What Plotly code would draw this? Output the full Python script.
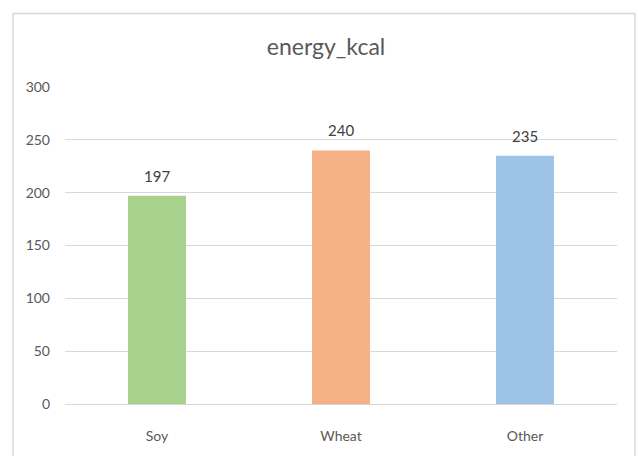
import plotly.graph_objects as go

categories = ["Soy", "Wheat", "Other"]
energy_kcal = [197, 240, 235]
bar_colors = ["#A9D18E", "#F4B183", "#9DC3E6"]
y_ticks = [0, 50, 100, 150, 200, 250, 300]

font_family = "Lato, 'Open Sans', sans-serif"
text_color = "#595959"

fig = go.Figure(
    go.Bar(
        x=categories,
        y=energy_kcal,
        marker=dict(color=bar_colors, line=dict(width=0)),
        width=0.315,
        hoverinfo="x+y",
    )
)

# value labels sitting above each bar
for cat, val in zip(categories, energy_kcal):
    fig.add_annotation(
        x=cat,
        y=val,
        text=str(val),
        showarrow=False,
        yanchor="bottom",
        yshift=9,
        font=dict(family=font_family, size=15, color="#404040"),
    )

plot_top, plot_bottom = 87, 410
fig.update_layout(
    width=638,
    height=456,
    margin=dict(l=65, r=21, t=plot_top, b=456 - plot_bottom),
    paper_bgcolor="white",
    plot_bgcolor="white",
    showlegend=False,
    title=dict(
        text="energy_kcal",
        x=0.511,
        xanchor="center",
        y=1 - 47 / 456,
        yanchor="middle",
        font=dict(family=font_family, size=23, color=text_color),
    ),
    xaxis=dict(
        showgrid=False,
        showline=True,
        linecolor="#d9d9d9",
        linewidth=1,
        ticks="",
        ticklabelstandoff=19,
        tickfont=dict(family=font_family, size=14, color=text_color),
    ),
    yaxis=dict(
        range=[0, 300],
        tickvals=y_ticks,
        showgrid=True,
        gridcolor="#d9d9d9",
        gridwidth=1,
        zeroline=False,
        showline=False,
        ticks="",
        ticklabelstandoff=14,
        tickfont=dict(family=font_family, size=14, color=text_color),
    ),
    shapes=[
        dict(
            type="rect",
            xref="paper",
            yref="paper",
            x0=(13 - 65) / 552,
            x1=(635 - 65) / 552,
            y0=-0.3,
            y1=(plot_bottom - 12) / (plot_bottom - plot_top),
            line=dict(color="#d9d9d9", width=1.5),
            fillcolor="rgba(0,0,0,0)",
            layer="below",
        )
    ],
)

fig.write_html("out.html")
